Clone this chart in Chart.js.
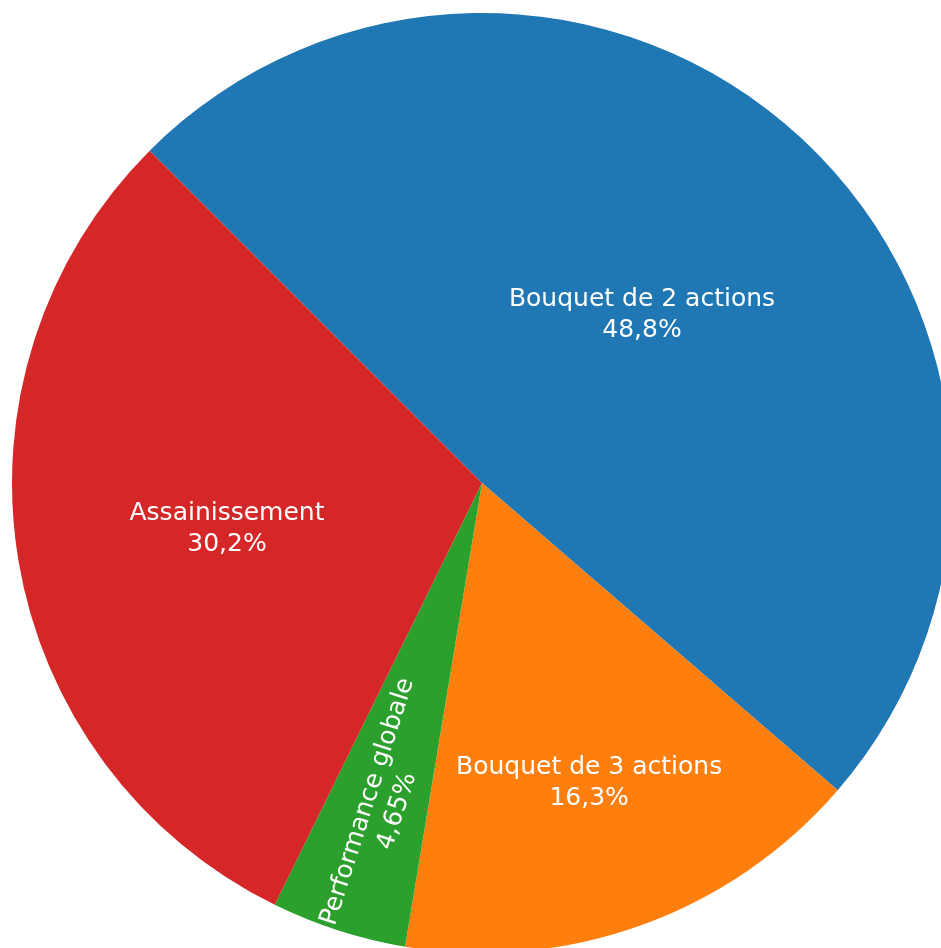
<!DOCTYPE html>
<html>
<head>
<meta charset="utf-8">
<script src="https://cdn.jsdelivr.net/npm/chart.js@4/dist/chart.umd.min.js"></script>
<style>
    html, body { margin: 0; padding: 0; background: #fff; overflow: hidden; }
    #pieChart { position: absolute; left: 0; top: 0; }
</style>
</head>
<body>
<canvas id="pieChart" width="964" height="966"></canvas>
<script>
// Slice labels and counts (percentages are worked out from these)
var labels = ['Bouquet de 2 actions', 'Bouquet de 3 actions', 'Performance globale', 'Assainissement'];
var counts = [21, 7, 2, 13];

// plotly default colours
var colours = ['#1f77b4', '#ff7f0e', '#2ca02c', '#d62728'];

// how far out along the slice's middle the label sits (fraction of radius)
var labelRadius = [0.5, 0.67, 0.72, 0.55];

// Draws "name\npercent" inside each slice, like plotly's textinfo
var sliceLabels = {
    id: 'sliceLabels',
    afterDatasetsDraw: function(chart) {
        var ctx = chart.ctx;
        var meta = chart.getDatasetMeta(0);
        var total = counts.reduce(function(a, b) { return a + b; }, 0);

        ctx.save();
        ctx.fillStyle = '#fff';
        ctx.font = '25px "DejaVu Sans"';
        ctx.textAlign = 'center';
        ctx.textBaseline = 'middle';

        meta.data.forEach(function(arc, i) {
            var p = arc.getProps(['x', 'y', 'startAngle', 'endAngle', 'outerRadius'], true);
            var mid = (p.startAngle + p.endAngle) / 2;
            var r = p.outerRadius * labelRadius[i];
            var cx = p.x + Math.cos(mid) * r;
            var cy = p.y + Math.sin(mid) * r;
            var share = counts[i] / total;
            var pct = (share * 100).toPrecision(3).replace('.', ',') + '%';

            ctx.save();
            ctx.translate(cx, cy);
            // thin slices get their text turned along the radius
            if (share < 0.1) {
                var rot = mid;
                if (Math.cos(mid) < 0) rot = mid - Math.PI;
                ctx.rotate(rot);
            }
            ctx.fillText(labels[i], 0, -11.5);
            ctx.fillText(pct, 0, 19.5);
            ctx.restore();
        });
        ctx.restore();
    }
};

var ctx = document.getElementById('pieChart');

var myChart = new Chart(ctx, {
    type: 'pie',
    data: {
        labels: labels,
        datasets: [{
            data: counts,
            backgroundColor: colours,
            borderWidth: 0
        }]
    },
    options: {
        responsive: false,
        animation: false,
        rotation: -45, // first slice starts up and to the left
        layout: { padding: { left: 12, right: 12, top: 13, bottom: 13 } },
        plugins: {
            legend: { display: false },
            tooltip: { enabled: false }
        }
    },
    plugins: [sliceLabels]
});
</script>
</body>
</html>
